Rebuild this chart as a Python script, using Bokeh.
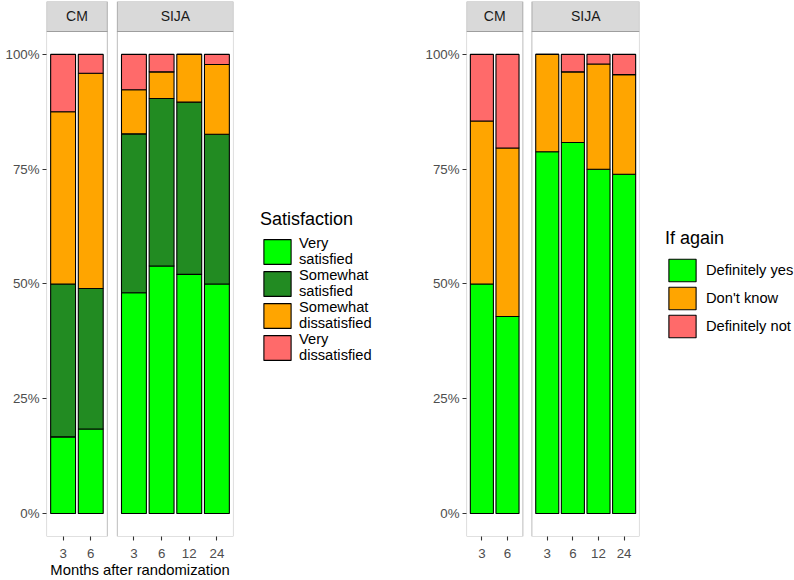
from bokeh.plotting import figure
from bokeh.models import (Range1d, FixedTicker, NumeralTickFormatter,
                          BoxAnnotation, Label, Legend, LegendItem, ColumnDataSource)
from bokeh.layouts import row
from bokeh.embed import file_html
from bokeh.resources import INLINE

FONT = "Liberation Sans"

# ---------------- data ----------------
facets = ["CM", "CM", "SIJA", "SIJA", "SIJA", "SIJA"]
months = ["3", "6", "3", "6", "12", "24"]
facet_names = ["CM", "SIJA"]

sat_labels = ["Very\nsatisfied", "Somewhat\nsatisfied", "Somewhat\ndissatisfied", "Very\ndissatisfied"]
sat_very_satisfied = [16.7, 18.4, 48.1, 53.9, 52.1, 50.0]
sat_somewhat_satisfied = [33.3, 30.6, 34.6, 36.5, 37.5, 32.6]
sat_somewhat_dissatisfied = [37.5, 46.9, 9.6, 5.8, 10.4, 15.2]
sat_very_dissatisfied = [12.5, 4.1, 7.7, 3.8, 0.0, 2.2]
sat_colors = ["#00FF00", "#228B22", "#FFA500", "#FF6A6A"]

again_labels = ["Definitely yes", "Don't know", "Definitely not"]
again_definitely_yes = [50.0, 42.9, 78.8, 80.8, 75.0, 73.9]
again_dont_know = [35.5, 36.7, 21.2, 15.4, 22.9, 21.7]
again_definitely_not = [14.5, 20.4, 0.0, 3.8, 2.1, 4.4]
again_colors = ["#00FF00", "#FFA500", "#FF6A6A"]

y_ticks = [0, 0.25, 0.5, 0.75, 1.0]
x_title = "Months after randomization"

# ---------------- layout constants ----------------
FIG_H = 580
B_TOP = 1
B_BOT = 43
B_LEFT = 46
FRAME_H = FIG_H - B_TOP - B_BOT
STRIP = 30
PANEL = FRAME_H - STRIP


def make_chart(series, colors, frame_w, gap_px, x_label):
    n = len(facets)
    unit = (frame_w - gap_px) / (n + 0.4)
    gpad = 0.2 + gap_px / unit
    pos = [0.0] * n
    panels = []
    start = 0.0
    for fname in facet_names:
        idx = [i for i, f in enumerate(facets) if f == fname]
        for j, i in enumerate(idx):
            pos[i] = start + j
        panels.append((fname, start - 0.6, start + len(idx) - 1 + 0.6))
        start += len(idx) + gpad
    unit_y = PANEL / 1.1
    y_top = 1.05 + STRIP / unit_y

    p = figure(x_range=Range1d(panels[0][1], panels[-1][2]), y_range=Range1d(-0.05, y_top),
               width=B_LEFT + frame_w + 1, height=FIG_H,
               output_backend="svg", toolbar_location=None,
               min_border_left=B_LEFT, min_border_right=1,
               min_border_top=B_TOP, min_border_bottom=B_BOT)
    p.outline_line_color = None
    p.xgrid.visible = False
    p.ygrid.visible = False

    data = {"x": pos}
    keys = []
    for i, s in enumerate(series):
        k = "s%d" % i
        keys.append(k)
        data[k] = [v / 100.0 for v in s]
    src = ColumnDataSource(data)
    p.vbar_stack(keys, x="x", width=0.9, source=src, fill_color=colors,
                 line_color="black", line_width=1.1)

    for fname, left, right in panels:
        p.add_layout(BoxAnnotation(left=left, right=right, bottom=-0.05, top=1.05,
                                   fill_alpha=0, line_color="#333333", line_width=1.1))
        p.add_layout(BoxAnnotation(left=left, right=right, bottom=1.05, top=y_top,
                                   fill_color="#D9D9D9", fill_alpha=1,
                                   line_color="#333333", line_width=1.1))
        p.add_layout(Label(x=(left + right) / 2, y=(1.05 + y_top) / 2, text=fname,
                           text_align="center", text_baseline="middle",
                           text_font=FONT, text_font_size="14px", text_color="#1A1A1A"))

    for ax in (p.xaxis[0], p.yaxis[0]):
        ax.axis_line_color = None
        ax.major_tick_line_color = "#333333"
        ax.major_tick_line_width = 1.1
        ax.major_tick_out = 4
        ax.major_tick_in = 0
        ax.minor_tick_line_color = None
        ax.major_label_text_font = FONT
        ax.major_label_text_font_size = "13.3px"
        ax.major_label_text_color = "#4D4D4D"
    p.yaxis.major_label_standoff = 3
    p.xaxis.major_label_standoff = 8
    p.yaxis.ticker = FixedTicker(ticks=y_ticks)
    p.yaxis.formatter = NumeralTickFormatter(format="0%")
    p.xaxis.ticker = FixedTicker(ticks=pos)
    p.xaxis.major_label_overrides = {x: m for x, m in zip(pos, months)}
    if x_label:
        p.xaxis.axis_label = x_label
        p.xaxis.axis_label_text_font = FONT
        p.xaxis.axis_label_text_font_size = "14.8px"
        p.xaxis.axis_label_text_font_style = "normal"
        p.xaxis.axis_label_text_color = "black"
        p.xaxis.axis_label_standoff = 1
    return p


def make_legend(labels, colors, title, width, glyph_w, glyph_h,
                label_standoff, title_standoff, loc):
    lp = figure(width=width, height=FIG_H, x_range=Range1d(0, 1), y_range=Range1d(0, 1),
                x_axis_type=None, y_axis_type=None, output_backend="svg",
                toolbar_location=None, min_border=0)
    lp.outline_line_color = None
    lp.xgrid.visible = False
    lp.ygrid.visible = False
    nan = float("nan")
    # legend proxies: one empty (NaN) bar per category, never visible
    rends = [lp.vbar(x=[nan], top=[nan], width=0.9, fill_color=c, line_color="black",
                     line_width=1.1) for c in colors]
    legend = Legend(items=[LegendItem(label=lab, renderers=[r]) for lab, r in zip(labels, rends)],
                    title=title, location=loc, orientation="vertical",
                    glyph_width=glyph_w, glyph_height=glyph_h, label_height=glyph_h,
                    label_standoff=label_standoff, spacing=0, padding=0, margin=0,
                    border_line_color=None, background_fill_alpha=0,
                    title_text_font=FONT, title_text_font_size="18px",
                    title_text_font_style="normal", title_text_color="black",
                    title_standoff=title_standoff,
                    label_text_font=FONT, label_text_font_size="14.7px",
                    label_text_color="black", label_text_line_height=0.95)
    lp.add_layout(legend)
    return lp


p_left = make_chart([sat_very_satisfied, sat_somewhat_satisfied, sat_somewhat_dissatisfied,
                     sat_very_dissatisfied], sat_colors, frame_w=187, gap_px=10, x_label=x_title)
leg_left = make_legend(sat_labels, sat_colors, "Satisfaction", 186, 34, 31, 5, 5, (26, 173))
p_right = make_chart([again_definitely_yes, again_dont_know, again_definitely_not],
                     again_colors, frame_w=173, gap_px=9, x_label=None)
leg_right = make_legend(again_labels, again_colors, "If again", 154, 34, 28, 7, 7, (25, 196))

layout = row(p_left, leg_left, p_right, leg_right)
open("out.html", "w").write(file_html(layout, INLINE))
